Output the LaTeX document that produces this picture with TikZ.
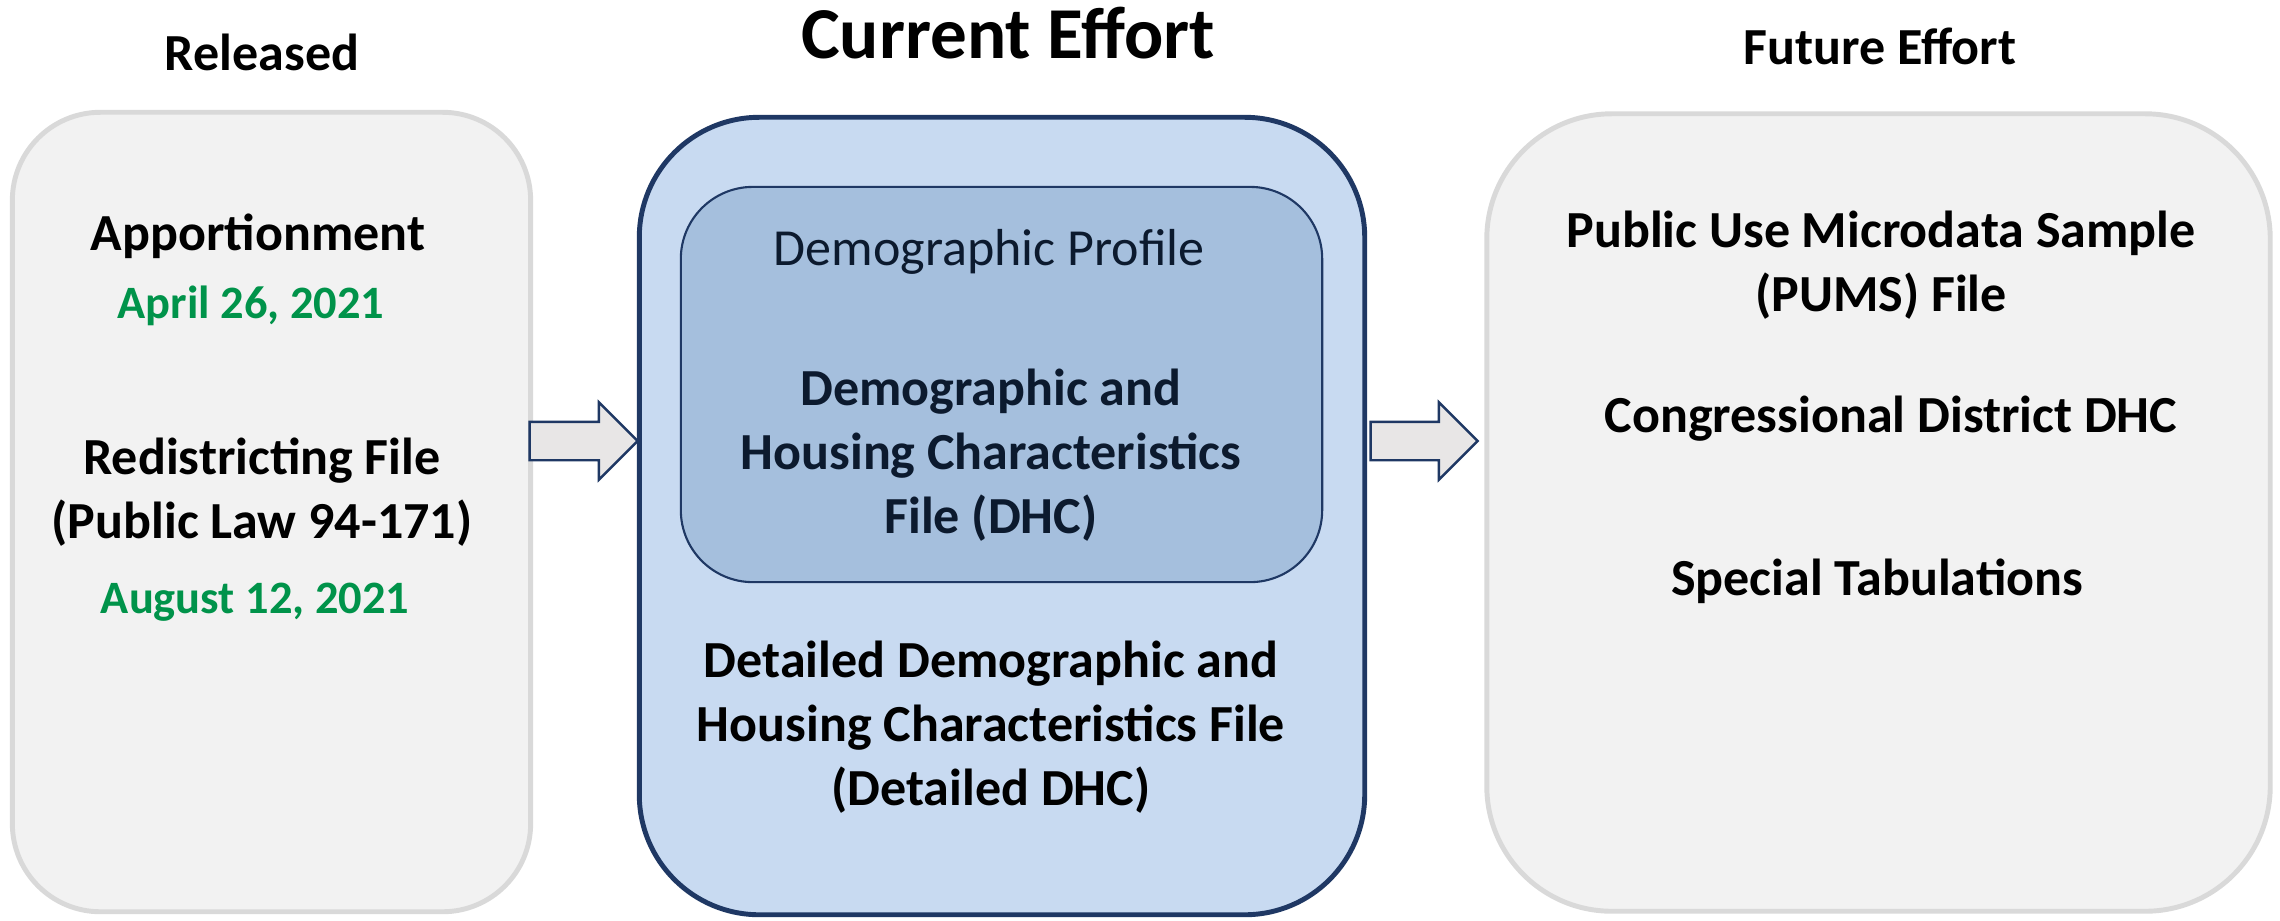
\documentclass[tikz,border=0pt]{standalone}
\usepackage{fontspec}
\setmainfont{Carlito}
\usetikzlibrary{shapes.arrows}

\definecolor{navyline}{HTML}{1F3864}
\definecolor{grayfill}{HTML}{F2F2F2}
\definecolor{grayline}{HTML}{D9D9D9}
\definecolor{outerblue}{HTML}{C8DAF1}
\definecolor{innerblue}{HTML}{A5BFDD}
\definecolor{arrowfill}{HTML}{E8E6E6}
\definecolor{dategreen}{HTML}{00934A}
\definecolor{darktext}{HTML}{0C1A2E}

\tikzset{
  graybox/.style={draw=grayline, fill=grayfill, line width=1.4pt, inner sep=0pt},
  outerbox/.style={draw=navyline, fill=outerblue, line width=1.4pt, inner sep=0pt},
  innerbox/.style={draw=navyline, fill=innerblue, line width=0.6pt, inner sep=0pt},
  blockarrow/.style={single arrow, draw=navyline, fill=arrowfill, line width=0.7pt,
    inner xsep=0pt, inner ysep=0.18cm, single arrow head extend=0.195cm,
    single arrow tip angle=90},
  lbl/.style={inner sep=0pt, anchor=base, align=center},
  boldtxt/.style={lbl, font=\fontsize{14.8}{18.2}\selectfont\bfseries},
  datetxt/.style={lbl, text=dategreen, font=\fontsize{13.2}{16}\selectfont\bfseries},
}

\begin{document}
\begin{tikzpicture}[x=0.01cm,y=-0.01cm]

	\useasboundingbox (0,0) rectangle (2280,920);

	% ---- boxes

	\node[graybox, minimum width=5.18cm, minimum height=7.99cm, rounded corners=0.88cm] (released) at (271.5,512) {};
	\node[outerbox, minimum width=7.25cm, minimum height=7.97cm, rounded corners=1.2cm] (current) at (1002,516) {};
	\node[innerbox, minimum width=6.41cm, minimum height=3.95cm, rounded corners=0.72cm] (dhcbox) at (1001.5,384.5) {};
	\node[graybox, minimum width=7.83cm, minimum height=7.97cm, rounded corners=1.25cm] (future) at (1878.5,512.5) {};

	% ---- arrows

	\node[blockarrow, minimum height=1.08cm] (arrL) at (574,441) {};
	\node[blockarrow, minimum height=1.07cm] (arrR) at (1414.5,441) {};

	% ---- titles (last-line baselines)

	\node[boldtxt] (tReleased) at (262,70) {Released};
	\node[lbl, font=\fontsize{20.8}{24}\selectfont\bfseries] (tCurrent) at (1008,58) {Current Effort};
	\node[boldtxt] (tFuture) at (1880,64) {Future Effort};

	% ---- released

	\node[boldtxt] (appor) at (258,250) {Apportionment};
	\node[datetxt] (apporDate) at (251,318) {April 26, 2021};
	\node[boldtxt] (redist) at (262,538) {Redistricting File\\(Public Law 94-171)};
	\node[datetxt] (redistDate) at (255,613) {August 12, 2021};

	% ---- current

	\node[lbl, text=darktext, font=\fontsize{14.8}{18.2}\selectfont] (profile) at (989,265) {Demographic Profile};
	\node[boldtxt, text=darktext] (dhc) at (991,533) {Demographic and\\Housing Characteristics\\File (DHC)};
	\node[boldtxt] (ddhc) at (991,805) {Detailed Demographic and\\Housing Characteristics File\\(Detailed DHC)};

	% ---- future

	\node[boldtxt] (pums) at (1881,311) {Public Use Microdata Sample\\(PUMS) File};
	\node[boldtxt] (cddhc) at (1891,432) {Congressional District DHC};
	\node[boldtxt] (spectab) at (1877,595) {Special Tabulations};

\end{tikzpicture}
\end{document}
